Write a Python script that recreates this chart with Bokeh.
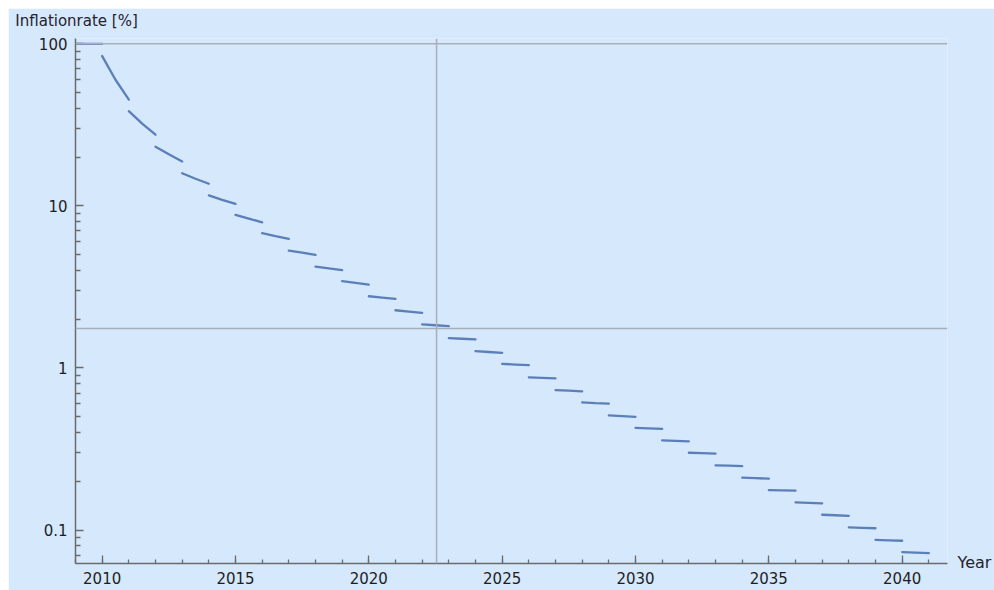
from bokeh.plotting import figure
from bokeh.models import FixedTicker, Span, Range1d, LinearAxis, LogAxis
from bokeh.embed import file_html
from bokeh.resources import INLINE

# ---- data ----
seg_year = [2009, 2010, 2011, 2012, 2013, 2014, 2015, 2016, 2017, 2018, 2019,
            2020, 2021, 2022, 2023, 2024, 2025, 2026, 2027, 2028, 2029,
            2030, 2031, 2032, 2033, 2034, 2035, 2036, 2037, 2038, 2039, 2040]
rate_start = [100, 84.0, 38.4, 23.2, 15.9, 11.6, 8.8, 6.78, 5.30, 4.22, 3.43,
              2.77, 2.27, 1.86, 1.53, 1.27, 1.06, 0.875, 0.730, 0.613, 0.510,
              0.427, 0.358, 0.300, 0.251, 0.2105, 0.1766, 0.148, 0.1243, 0.104, 0.0871, 0.0731]
rate_mid = [100, 60.0, 32.2, 20.8, 14.7, 10.9, 8.35, 6.50, 5.14, 4.12, 3.35,
            2.72, 2.23, 1.835, 1.515, 1.255, 1.05, 0.869, 0.724, 0.607, 0.505,
            0.424, 0.3555, 0.298, 0.2495, 0.209, 0.1758, 0.147, 0.1234, 0.1033, 0.0865, 0.0726]
rate_end = [100, 45.3, 27.5, 18.8, 13.7, 10.3, 7.92, 6.26, 4.98, 4.02, 3.27,
            2.67, 2.19, 1.81, 1.50, 1.24, 1.04, 0.863, 0.717, 0.602, 0.500,
            0.421, 0.353, 0.296, 0.248, 0.2075, 0.175, 0.146, 0.1225, 0.1026, 0.0859, 0.0721]

x_major = [2010, 2015, 2020, 2025, 2030, 2035, 2040]
x_minor = list(range(2009, 2042))
y_major = [0.1, 1, 10, 100]
y_major_labels = ["0.1", "1", "10", "100"]
y_minor = [0.07, 0.08, 0.09,
           0.2, 0.3, 0.4, 0.5, 0.6, 0.7, 0.8, 0.9,
           2, 3, 4, 5, 6, 7, 8, 9,
           20, 30, 40, 50, 60, 70, 80, 90]

y_title = "Inflationrate [%]"
x_title = "Year"

ref_year = 2022.54
ref_rate = 1.75
top_rate = 100

x_start, x_end = 2009.0, 2041.7
y_start, y_end = 0.0622, 107.8

# anchor positions of the axis titles (layout, in data coordinates)
y_title_anchor = 2009.04
x_title_anchor = 0.0635

# ---- style ----
BG = "#d5e8fc"
AXIS = "#6b6b6b"
GRID = "#a9afb6"
LINE = "#5b7fb8"
FONT = "DejaVu Sans"

p = figure(width=986, height=582, y_axis_type="log",
           x_range=Range1d(x_start, x_end), y_range=Range1d(y_start, y_end),
           output_backend="svg", toolbar_location=None, title=None,
           min_border_left=67, min_border_right=47, min_border_top=30, min_border_bottom=27)
p.margin = (8, 0, 0, 8)

p.background_fill_color = BG
p.border_fill_color = BG
p.outline_line_color = None
p.grid.visible = False

# reference lines
for loc in [top_rate, ref_rate]:
    p.add_layout(Span(location=loc, dimension="width", line_color=GRID, line_width=1.5))
p.add_layout(Span(location=ref_year, dimension="height", line_color=GRID, line_width=1.5))

# data segments (one per year, no connectors)
xs = [[y, y + 0.5, y + 1] for y in seg_year]
ys = [[a, b, c] for a, b, c in zip(rate_start, rate_mid, rate_end)]
p.multi_line(xs, ys, line_color=LINE, line_width=2.3, line_cap="round")

# axes
xa = p.xaxis[0]
xa.ticker = FixedTicker(ticks=x_major, minor_ticks=x_minor)
xa.major_label_overrides = {t: str(t) for t in x_major}
ya = p.yaxis[0]
ya.ticker = FixedTicker(ticks=y_major, minor_ticks=y_minor)
ya.major_label_overrides = dict(zip(y_major, y_major_labels))

for ax in (xa, ya):
    ax.axis_line_color = AXIS
    ax.axis_line_width = 1.5
    ax.major_tick_line_color = AXIS
    ax.minor_tick_line_color = AXIS
    ax.major_tick_line_width = 1.3
    ax.minor_tick_line_width = 1.3
    ax.major_tick_out = 0
    ax.minor_tick_out = 0
    ax.major_label_text_font = FONT
    ax.major_label_text_font_size = "15px"
    ax.major_label_text_color = "#1e1e1e"
    ax.major_label_standoff = 8

xa.major_tick_in = 8
xa.minor_tick_in = 4
xa.major_label_standoff = 8
ya.major_tick_in = 8
ya.minor_tick_in = 5


def title_axis(ax, standoff, size):
    ax.axis_line_color = None
    ax.major_tick_line_color = None
    ax.minor_tick_line_color = None
    ax.major_tick_in = 0
    ax.major_tick_out = 0
    ax.minor_tick_in = 0
    ax.minor_tick_out = 0
    ax.major_label_standoff = standoff
    ax.major_label_text_font = FONT
    ax.major_label_text_font_size = size
    ax.major_label_text_color = "#26222e"
    return ax


# y title above the plot (left), x title to the right of the axis end
top_ax = title_axis(LinearAxis(ticker=FixedTicker(ticks=[y_title_anchor], minor_ticks=[]),
                               major_label_overrides={y_title_anchor: y_title}), 9, "15px")
p.add_layout(top_ax, "above")
right_ax = title_axis(LogAxis(ticker=FixedTicker(ticks=[x_title_anchor], minor_ticks=[]),
                              major_label_overrides={x_title_anchor: x_title}), 10, "16px")
p.add_layout(right_ax, "right")

open("out.html", "w").write(file_html(p, INLINE))
